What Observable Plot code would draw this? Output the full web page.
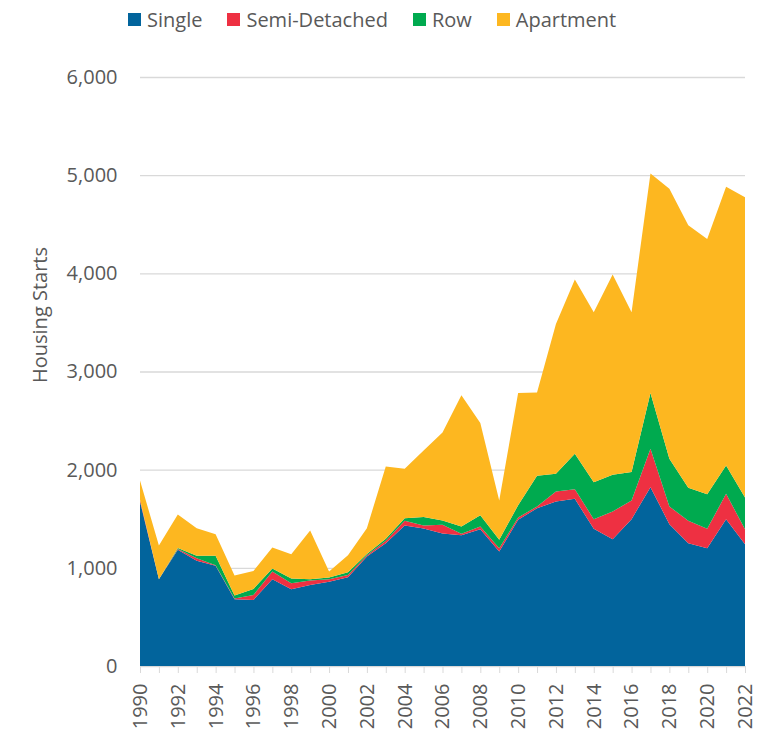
<!DOCTYPE html>
<html><head><meta charset="utf-8">
<script src="https://cdn.jsdelivr.net/npm/d3@7"></script>
<script src="https://cdn.jsdelivr.net/npm/@observablehq/plot@0.6"></script>
<style>
body{margin:0;background:#fff;font-family:"Open Sans",sans-serif;color:#595959}
#legend{height:38px;display:flex;align-items:center;padding-left:128px;gap:25px;font-size:20px}
.item{display:flex;align-items:center;gap:6px}
.sw{width:13px;height:13px;display:inline-block}
</style></head><body>
<div id="legend"></div>
<div id="chart"></div>
<script>
const years = [1990,1991,1992,1993,1994,1995,1996,1997,1998,1999,2000,2001,2002,2003,2004,2005,2006,2007,2008,2009,2010,2011,2012,2013,2014,2015,2016,2017,2018,2019,2020,2021,2022];
const single = [1676,884,1183,1071,1020,680,673,884,782,826,857,904,1115,1251,1431,1400,1349,1332,1394,1166,1489,1608,1676,1703,1397,1292,1496,1822,1445,1251,1200,1496,1241];
const semiDetached = [20,0,10,27,7,7,51,78,61,44,27,24,13,24,48,31,89,14,27,34,24,17,102,98,99,282,190,391,180,228,197,258,153];
const row = [0,0,10,24,95,30,61,31,48,14,17,27,14,20,27,88,44,75,115,85,125,312,180,361,377,374,289,567,486,336,353,289,323];
const apartment = [194,343,340,282,221,204,184,214,248,496,61,173,262,738,503,677,897,1336,939,401,1142,850,1526,1774,1730,2039,1628,2237,2750,2675,2601,2838,3059];
const types = ["Single","Semi-Detached","Row","Apartment"];
const colors = ["#02649c","#ee3042","#00aa4f","#fdb720"];
const yTicks = [0,1000,2000,3000,4000,5000,6000];
const yLabel = "Housing Starts";

const seriesValues = [single, semiDetached, row, apartment];
const data = [];
types.forEach((t, i) => years.forEach((yr, j) => data.push({year: yr, type: t, value: seriesValues[i][j]})));

const legend = document.getElementById("legend");
types.forEach((t, i) => {
  const it = document.createElement("span"); it.className = "item";
  const sw = document.createElement("span"); sw.className = "sw"; sw.style.background = colors[i];
  const tx = document.createElement("span"); tx.textContent = t;
  it.appendChild(sw); it.appendChild(tx); legend.appendChild(it);
});

const chart = Plot.plot({
  width: 769, height: 695,
  marginTop: 39, marginBottom: 67, marginLeft: 140, marginRight: 24,
  style: {fontFamily: "Open Sans, sans-serif", fontSize: "20px", color: "#595959", background: "#fff"},
  x: {domain: [1990, 2022]},
  y: {domain: [0, 6000]},
  color: {domain: types, range: colors},
  marks: [
    Plot.gridY(yTicks, {stroke: "#d9d9d9", strokeOpacity: 1, strokeWidth: 1.3}),
    Plot.areaY(data, {x: "year", y: "value", z: "type", fill: "type"}),
    Plot.axisY(yTicks, {tickSize: 0, tickPadding: 23, tickFormat: d3.format(","), label: null, fontSize: 20, fill: "#595959"}),
    Plot.axisX(years, {tickSize: 7, stroke: "#d9d9d9", tickRotate: -90, tickPadding: 10, tickFormat: d => d % 2 ? "" : String(d), label: null, fontSize: 20, fill: "#595959"}),
    Plot.text([yLabel], {text: d => d, frameAnchor: "left", textAnchor: "middle", dx: -100, dy: -57, rotate: -90, fontSize: 20, fill: "#595959"})
  ]
});
document.getElementById("chart").appendChild(chart);
</script>
</body></html>
